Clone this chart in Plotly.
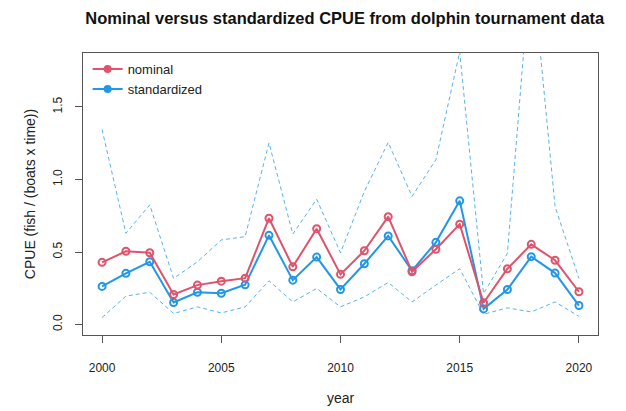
import plotly.graph_objects as go

years = list(range(2000, 2021))
nominal = [0.429, 0.505, 0.495, 0.207, 0.272, 0.299, 0.320, 0.733, 0.398, 0.661, 0.346,
           0.509, 0.744, 0.364, 0.519, 0.692, 0.150, 0.385, 0.553, 0.443, 0.226]
standardized = [0.263, 0.353, 0.433, 0.152, 0.223, 0.216, 0.274, 0.615, 0.306, 0.465, 0.242,
                0.419, 0.611, 0.371, 0.567, 0.853, 0.108, 0.242, 0.468, 0.355, 0.131]
upper = [1.344, 0.629, 0.825, 0.318, 0.433, 0.583, 0.606, 1.252, 0.624, 0.864, 0.495,
         0.917, 1.256, 0.883, 1.136, 1.88, 0.214, 0.491, 2.53, 0.813, 0.318]
lower = [0.048, 0.196, 0.223, 0.076, 0.122, 0.080, 0.122, 0.302, 0.156, 0.249, 0.122,
         0.191, 0.290, 0.156, 0.272, 0.385, 0.071, 0.115, 0.087, 0.156, 0.057]
x_ticks = [2000, 2005, 2010, 2015, 2020]
y_ticks = [0.0, 0.5, 1.0, 1.5]

RED = "#DF536B"
BLUE = "#2297E6"
CI = "rgba(34,151,230,0.75)"
FONT = "Liberation Sans, Arial, sans-serif"

fig = go.Figure()
for band in (upper, lower):
    fig.add_trace(go.Scatter(x=years, y=band, mode="lines", showlegend=False,
                             line=dict(color=CI, width=1, dash="4px,3px")))
fig.add_trace(go.Scatter(x=years, y=standardized, mode="lines+markers", showlegend=False,
                         line=dict(color=BLUE, width=2),
                         marker=dict(symbol="circle-open", size=7, color=BLUE,
                                     line=dict(width=2, color=BLUE))))
fig.add_trace(go.Scatter(x=years, y=nominal, mode="lines+markers", showlegend=False,
                         line=dict(color=RED, width=2),
                         marker=dict(symbol="circle-open", size=7, color=RED,
                                     line=dict(width=2, color=RED))))
# legend entries
for name, col in (("nominal", RED), ("standardized", BLUE)):
    fig.add_trace(go.Scatter(x=[None], y=[None], mode="lines+markers", name=name,
                             line=dict(color=col, width=2),
                             marker=dict(symbol="circle", size=8, color=col)))

fig.update_layout(
    width=618, height=403,
    margin=dict(l=75, r=28, t=45, b=76),
    paper_bgcolor="white", plot_bgcolor="white",
    font=dict(family=FONT, size=12, color="#222"),
    title=dict(text="<b>Nominal versus standardized CPUE from dolphin tournament data</b>",
               x=0.545, xanchor="center", y=0.975, yanchor="middle",
               font=dict(size=16.5, color="#111")),
    legend=dict(x=0.009, y=0.996, xanchor="left", yanchor="top", bgcolor="rgba(0,0,0,0)",
                font=dict(size=13, color="#222"), itemwidth=30, tracegroupgap=0),
    xaxis=dict(range=[1999.2, 2020.8], tickvals=x_ticks, ticks="outside", ticklen=7,
               tickcolor="#555", showgrid=False, zeroline=False, showline=True,
               linecolor="#555", linewidth=1, mirror=True, automargin=False,
               ticklabelstandoff=15,
               title=dict(text="year", standoff=18), tickfont=dict(size=12)),
    yaxis=dict(range=[-0.072, 1.872], tickvals=y_ticks, tickformat=".1f", ticks="outside",
               ticklen=7, tickcolor="#555", tickangle=-90, showgrid=False, zeroline=False,
               showline=True, linecolor="#555", linewidth=1, mirror=True, automargin=False,
               ticklabelstandoff=8,
               title=dict(text="CPUE (fish / (boats x time))", standoff=12),
               tickfont=dict(size=12)),
)
fig.write_html("out.html")
